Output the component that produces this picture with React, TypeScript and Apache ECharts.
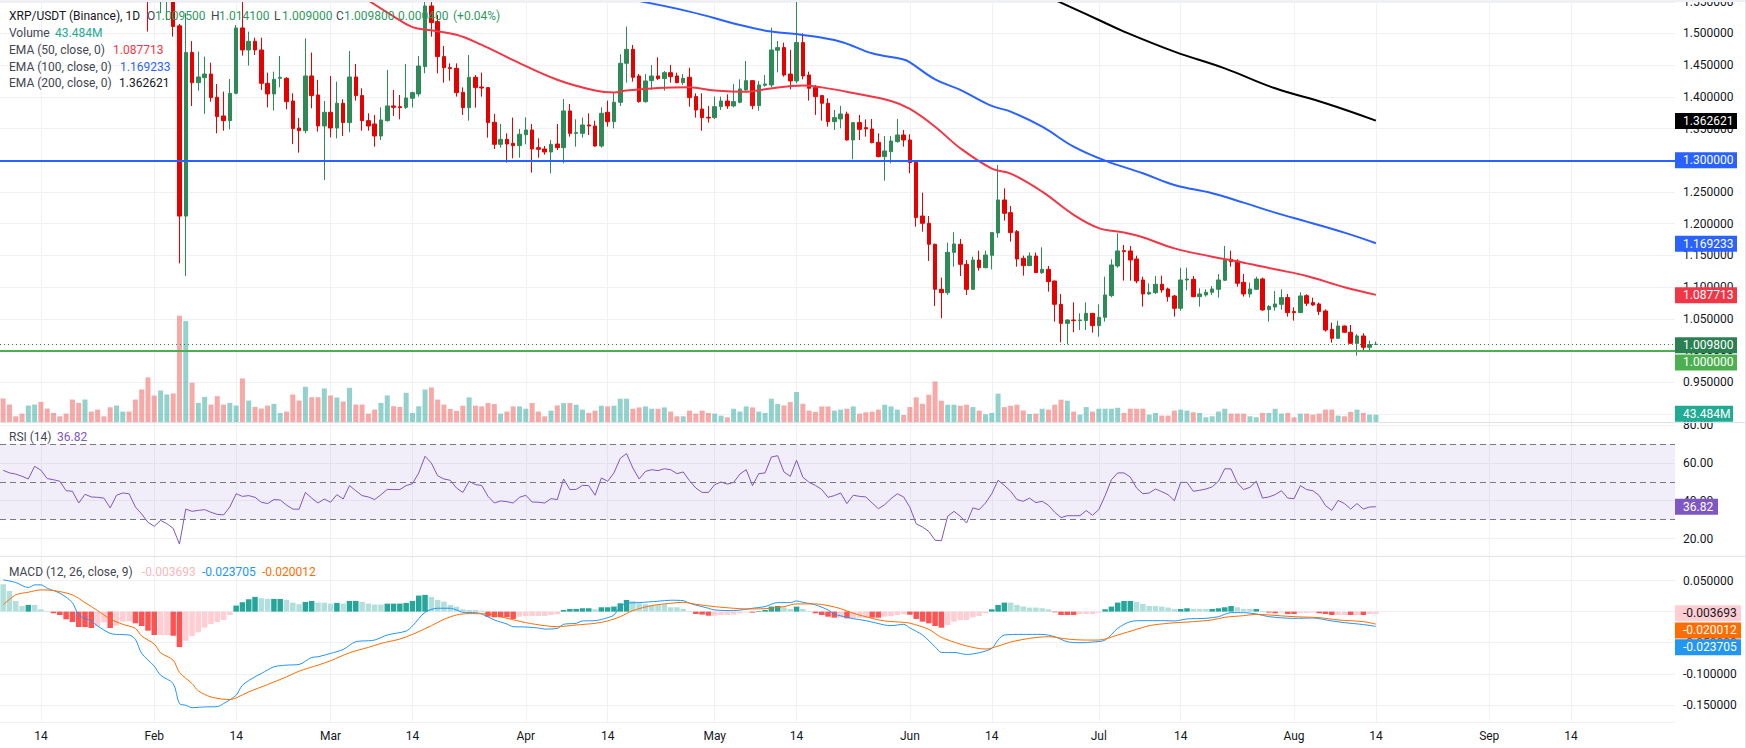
import React, { useEffect, useRef } from "react";
import * as echarts from "echarts";

// ---------- axis / categories ----------
const FIRST_DAY = [2023, 0, 8];
const CATEGORY_COUNT = 266;
const MONTH_NAMES = ["Jan", "Feb", "Mar", "Apr", "May", "Jun", "Jul", "Aug", "Sep", "Oct", "Nov", "Dec"];
const LABEL_DAYS = [1, 14];

// ---------- price candles (index 23 = Jan 31 onwards), rows [open, high, low, close] ----------
const CANDLE_START = 23;
const CANDLES: (number[] | null)[] = [
  [1.585, 1.6, 1.503, 1.565], null, [1.56, 1.6, 1.532, 1.58], [1.57, 1.61, 1.521, 1.59],
  [1.565, 1.575, 1.495, 1.511], [1.512, 1.515, 1.1375, 1.212], [1.212, 1.532, 1.1175, 1.47],
  [1.47, 1.488, 1.3856, 1.4224], [1.4224, 1.4714, 1.4098, 1.4314], [1.4303, 1.4635, 1.3733, 1.436],
  [1.436, 1.454, 1.3925, 1.3988], [1.3994, 1.4203, 1.3425, 1.3689], [1.3699, 1.4082, 1.3467, 1.3625],
  [1.3625, 1.4282, 1.3488, 1.4056], [1.4056, 1.5134, 1.404, 1.5087], [1.5087, 1.5502, 1.465, 1.474],
  [1.474, 1.5029, 1.4493, 1.4877], [1.4877, 1.4934, 1.4661, 1.474], [1.474, 1.4934, 1.4109, 1.4214],
  [1.4214, 1.4382, 1.3835, 1.4046], [1.4046, 1.4398, 1.3783, 1.4277], [1.4293, 1.4645, 1.4151, 1.4309],
  [1.4293, 1.431, 1.3804, 1.3925], [1.3935, 1.4056, 1.3254, 1.3499], [1.3509, 1.3667, 1.312, 1.3467],
  [1.3467, 1.4923, 1.3425, 1.433], [1.433, 1.4698, 1.382, 1.402], [1.403, 1.4267, 1.3452, 1.3541],
  [1.3541, 1.3935, 1.2689, 1.3757], [1.3757, 1.433, 1.3362, 1.3509], [1.3509, 1.424, 1.3346, 1.3899],
  [1.3899, 1.3962, 1.3383, 1.3594], [1.3594, 1.4724, 1.3441, 1.4314], [1.4314, 1.4519, 1.3941, 1.402],
  [1.402, 1.4135, 1.3467, 1.3625], [1.3625, 1.3741, 1.3467, 1.3541], [1.3573, 1.3715, 1.3215, 1.3383],
  [1.3383, 1.3835, 1.332, 1.3636], [1.3625, 1.4425, 1.361, 1.3857], [1.3857, 1.4109, 1.3699, 1.3835],
  [1.3846, 1.403, 1.3646, 1.383], [1.3835, 1.4519, 1.381, 1.3983], [1.3978, 1.4082, 1.3835, 1.4067],
  [1.4046, 1.4645, 1.4004, 1.4487], [1.4477, 1.5502, 1.4372, 1.5434], [1.5434, 1.5502, 1.495, 1.5171],
  [1.5187, 1.529, 1.4372, 1.4635], [1.4635, 1.4803, 1.4224, 1.4461], [1.4461, 1.4529, 1.4256, 1.4445],
  [1.445, 1.4529, 1.4004, 1.4067], [1.4072, 1.4151, 1.3715, 1.383], [1.383, 1.4661, 1.3625, 1.4309],
  [1.4309, 1.4345, 1.383, 1.4146], [1.4156, 1.4382, 1.4004, 1.414], [1.4146, 1.4151, 1.3357, 1.3594],
  [1.3599, 1.373, 1.3178, 1.3252], [1.3252, 1.3573, 1.3199, 1.333], [1.333, 1.3425, 1.2963, 1.3257],
  [1.3267, 1.3673, 1.3031, 1.3231], [1.3231, 1.3494, 1.3041, 1.341], [1.3404, 1.3678, 1.3252, 1.3478],
  [1.3478, 1.3573, 1.2805, 1.3178], [1.3199, 1.3346, 1.3041, 1.3173], [1.3178, 1.3225, 1.3089, 1.3131],
  [1.3131, 1.332, 1.2795, 1.3252], [1.3257, 1.3573, 1.3162, 1.3199], [1.3199, 1.3967, 1.2952, 1.3778],
  [1.3778, 1.3888, 1.3373, 1.3425], [1.3425, 1.3646, 1.3215, 1.3436], [1.3425, 1.3673, 1.3357, 1.3557],
  [1.3557, 1.3741, 1.3399, 1.3541], [1.3541, 1.3625, 1.3215, 1.3225], [1.3225, 1.3835, 1.3199, 1.3741],
  [1.3757, 1.3941, 1.353, 1.3609], [1.3609, 1.4056, 1.3504, 1.3915], [1.3915, 1.4672, 1.3857, 1.453],
  [1.453, 1.5108, 1.4224, 1.475], [1.475, 1.4819, 1.424, 1.4309], [1.433, 1.4361, 1.3909, 1.3925],
  [1.3925, 1.436, 1.3909, 1.4251], [1.4256, 1.4503, 1.4109, 1.433], [1.433, 1.4624, 1.4267, 1.4288],
  [1.4288, 1.4408, 1.4098, 1.4382], [1.4382, 1.4503, 1.4224, 1.4319], [1.433, 1.4382, 1.4214, 1.4224],
  [1.4224, 1.436, 1.4188, 1.4293], [1.4309, 1.446, 1.3846, 1.3988], [1.4004, 1.4056, 1.3673, 1.3793],
  [1.3809, 1.4056, 1.3467, 1.3673], [1.3678, 1.3857, 1.3594, 1.3667], [1.3673, 1.4004, 1.3652, 1.3846],
  [1.3846, 1.4004, 1.3793, 1.3935], [1.3935, 1.404, 1.381, 1.3857], [1.3857, 1.4203, 1.3835, 1.3925],
  [1.3915, 1.4277, 1.3899, 1.4125], [1.4109, 1.4566, 1.4098, 1.4256], [1.4256, 1.4265, 1.3804, 1.3862],
  [1.3862, 1.4251, 1.3783, 1.4188], [1.4183, 1.4345, 1.4161, 1.4203], [1.4188, 1.5092, 1.4151, 1.474],
  [1.4735, 1.4882, 1.4387, 1.4777], [1.4777, 1.4856, 1.4319, 1.4345], [1.436, 1.474, 1.4119, 1.4251],
  [1.4251, 1.5502, 1.4214, 1.4856], [1.4856, 1.5003, 1.4277, 1.433], [1.4345, 1.4398, 1.3941, 1.4135],
  [1.4146, 1.4188, 1.3715, 1.4004], [1.402, 1.403, 1.3625, 1.3899], [1.3899, 1.3978, 1.353, 1.3609],
  [1.3609, 1.3793, 1.3478, 1.3673], [1.3652, 1.3857, 1.3504, 1.373], [1.373, 1.3767, 1.331, 1.332],
  [1.332, 1.3594, 1.3015, 1.3594], [1.3594, 1.3715, 1.332, 1.3488], [1.3515, 1.3646, 1.3373, 1.3494],
  [1.3494, 1.3651, 1.3268, 1.3278], [1.3283, 1.3425, 1.3047, 1.3057], [1.3057, 1.3383, 1.2679, 1.3147],
  [1.3136, 1.3383, 1.2952, 1.3304], [1.3294, 1.3651, 1.3278, 1.3399], [1.3399, 1.3478, 1.3215, 1.332],
  [1.332, 1.341, 1.2795, 1.2963], [1.2968, 1.2985, 1.1953, 1.2096], [1.2121, 1.249, 1.1874, 1.2006],
  [1.2006, 1.2121, 1.1412, 1.1675], [1.1675, 1.1685, 1.0702, 1.0965], [1.0965, 1.1149, 1.0507, 1.0912],
  [1.0912, 1.1701, 1.0876, 1.1548], [1.1548, 1.1864, 1.1322, 1.168], [1.1675, 1.1759, 1.1175, 1.1359],
  [1.1359, 1.1427, 1.0876, 1.0965], [1.0965, 1.148, 1.0955, 1.1427], [1.1427, 1.1575, 1.1259, 1.1306],
  [1.1306, 1.1575, 1.1296, 1.1506], [1.1501, 1.1864, 1.128, 1.1859], [1.1854, 1.2926, 1.178, 1.2374],
  [1.2374, 1.2558, 1.2048, 1.2164], [1.2174, 1.2279, 1.1717, 1.1859], [1.1875, 1.19, 1.1322, 1.1443],
  [1.1454, 1.1496, 1.118, 1.1338], [1.1338, 1.1548, 1.1333, 1.149], [1.149, 1.1543, 1.1223, 1.1228],
  [1.1228, 1.1627, 1.1207, 1.128], [1.128, 1.1333, 1.0928, 1.1086], [1.1096, 1.1101, 1.0455, 1.0728],
  [1.0728, 1.0891, 1.0129, 1.0428], [1.0428, 1.0491, 1.0097, 1.0481], [1.0481, 1.076, 1.0287, 1.0471],
  [1.0471, 1.0586, 1.0323, 1.0481], [1.0471, 1.076, 1.0323, 1.0586], [1.0586, 1.0591, 1.0281, 1.0392],
  [1.0392, 1.0728, 1.0218, 1.0523], [1.0523, 1.1165, 1.0455, 1.0876], [1.0865, 1.1438, 1.0839, 1.1349],
  [1.1333, 1.1848, 1.1306, 1.157], [1.1575, 1.1664, 1.1102, 1.1559], [1.157, 1.1648, 1.1102, 1.1427],
  [1.1443, 1.1496, 1.106, 1.1096], [1.1112, 1.1165, 1.0692, 1.0891], [1.0891, 1.106, 1.0876, 1.0918],
  [1.0912, 1.1175, 1.0891, 1.1044], [1.1044, 1.118, 1.0912, 1.0954], [1.097, 1.0991, 1.077, 1.0849],
  [1.086, 1.0876, 1.0534, 1.0665], [1.0665, 1.1306, 1.0628, 1.1112], [1.1112, 1.1306, 1.095, 1.1128],
  [1.1123, 1.1175, 1.0839, 1.0849], [1.0849, 1.0981, 1.0692, 1.0891], [1.0876, 1.0965, 1.0849, 1.0918],
  [1.0918, 1.1017, 1.0876, 1.097], [1.0965, 1.1207, 1.0834, 1.1112], [1.1107, 1.1648, 1.1102, 1.1427],
  [1.1438, 1.1575, 1.1322, 1.1401], [1.141, 1.1438, 1.1007, 1.106], [1.1075, 1.1207, 1.0849, 1.0891],
  [1.0891, 1.107, 1.0834, 1.097], [1.0965, 1.1165, 1.0954, 1.1128], [1.1128, 1.1149, 1.0628, 1.0639],
  [1.0644, 1.0718, 1.0455, 1.0692], [1.0686, 1.0939, 1.0628, 1.0734], [1.0728, 1.0965, 1.0644, 1.0834],
  [1.0834, 1.0891, 1.0534, 1.0597], [1.0613, 1.0681, 1.0471, 1.0597], [1.0597, 1.0918, 1.0592, 1.086],
  [1.0865, 1.0886, 1.0702, 1.0744], [1.0755, 1.0834, 1.0702, 1.0718], [1.0734, 1.0755, 1.056, 1.0613],
  [1.0623, 1.0649, 1.0297, 1.0323], [1.0334, 1.0439, 1.0124, 1.0192], [1.0192, 1.0471, 1.0181, 1.0386],
  [1.0386, 1.0392, 1.0276, 1.0287], [1.0287, 1.0402, 1.0113, 1.0113], [1.0113, 1.026, 0.9919, 1.0229],
  [1.0229, 1.0271, 1.0008, 1.005], [1.005, 1.0155, 0.9997, 1.0094], [1.0095, 1.0141, 1.009, 1.0098],
];

// ---------- volume (millions), one per day from Jan 8 ----------
const VOLUME_M = [
  140, 104, 34, 50, 98, 104, 120, 80, 54, 34,
  50, 134, 114, 134, 62, 74, 34, 88, 98, 62,
  62, 134, 194, 266, 158, 188, 164, 170, 634, 602,
  234, 114, 150, 104, 154, 104, 114, 98, 260, 128,
  90, 80, 98, 108, 54, 62, 164, 128, 210, 148,
  148, 200, 158, 146, 122, 204, 104, 104, 50, 74,
  114, 158, 94, 90, 174, 54, 94, 194, 206, 134,
  104, 78, 66, 97, 147, 97, 93, 113, 107, 50,
  62, 93, 93, 79, 113, 62, 34, 68, 99, 113,
  113, 103, 74, 54, 68, 97, 93, 97, 139, 139,
  79, 87, 93, 79, 79, 87, 62, 34, 34, 68,
  50, 68, 54, 50, 38, 28, 79, 62, 93, 87,
  62, 54, 139, 107, 99, 119, 179, 109, 68, 60,
  93, 93, 68, 74, 79, 93, 50, 58, 62, 74,
  103, 93, 74, 42, 89, 147, 109, 163, 242, 127,
  103, 103, 97, 103, 89, 68, 46, 54, 169, 89,
  97, 103, 68, 48, 50, 79, 74, 103, 133, 127,
  62, 44, 89, 62, 79, 79, 79, 85, 54, 79,
  79, 79, 44, 54, 38, 38, 68, 74, 68, 58,
  54, 28, 34, 62, 79, 50, 50, 50, 34, 28,
  54, 54, 79, 50, 54, 28, 50, 50, 44, 50,
  74, 74, 38, 34, 60, 74, 54, 44, 43.484,
];
// up (1) / down (0) for days whose candle is off-screen (Jan 8 .. Feb 1)
const HIDDEN_VOLUME_UP = [0, 0, 0, 0, 1, 1, 0, 0, 0, 0, 0, 0, 0, 1, 0, 0, 0, 0, 1, 1, 0, 0, 0, 0, 0];

// ---------- EMAs, [day index, value] readings ----------
const EMA50: number[][] = [
  [58, 1.552], [62, 1.527], [65, 1.51], [68, 1.505], [72, 1.498], [76, 1.482], [81, 1.458],
  [88, 1.427], [94, 1.41], [97, 1.407], [99, 1.41], [104, 1.414], [109, 1.415], [113, 1.41],
  [118, 1.408], [121, 1.412], [127, 1.418], [130, 1.415], [135, 1.406], [141, 1.3935],
  [144, 1.381], [148, 1.353], [152, 1.319], [157, 1.287], [160, 1.279], [165, 1.2505],
  [170, 1.214], [174, 1.193], [178, 1.186], [181, 1.1785], [186, 1.161], [192, 1.148],
  [197, 1.1385], [202, 1.128], [207, 1.1175], [213, 1.0997], [218, 1.087713],
];
const EMA100: number[][] = [
  [100, 1.553], [109, 1.5345], [117, 1.5134], [122, 1.503], [127, 1.4977], [133, 1.487],
  [138, 1.4687], [143, 1.459], [144, 1.4545], [148, 1.4277], [152, 1.411], [157, 1.3857],
  [160, 1.3767], [165, 1.353], [170, 1.3215], [175, 1.2994], [181, 1.2795], [186, 1.261],
  [192, 1.248], [197, 1.2332], [202, 1.2174], [207, 1.2032], [213, 1.1859], [218, 1.169233],
];
const EMA200: number[][] = [
  [167, 1.553], [174, 1.5213], [178, 1.503], [186, 1.4714], [194, 1.445], [202, 1.4135],
  [210, 1.39], [218, 1.362621],
];

// ---------- horizontal levels ----------
const LEVEL_BLUE = 1.3;
const LEVEL_GREEN = 1.0;

// ---------- RSI(14), one per day ----------
const RSI = [
  56.1, 54.7, 54.1, 52.9, 51.5, 58.2, 56.1, 51.7, 51.1, 50.3,
  45.3, 45.0, 38.8, 43.4, 42.0, 41.8, 41.4, 36.2, 42.9, 44.1,
  43.7, 36.7, 33.0, 28.6, 26.5, 29.6, 27.9, 25.4, 17.1, 35.6,
  34.4, 34.9, 35.3, 33.9, 32.8, 32.5, 36.7, 43.7, 42.3, 42.7,
  41.8, 39.2, 38.5, 40.6, 40.4, 37.7, 35.6, 35.5, 44.4, 41.4,
  38.8, 40.9, 39.2, 43.2, 40.9, 48.0, 45.3, 42.7, 42.0, 40.6,
  43.2, 46.0, 45.9, 45.9, 48.0, 49.0, 54.7, 63.5, 59.9, 53.2,
  51.5, 50.8, 46.7, 44.4, 50.3, 48.5, 48.1, 42.3, 38.8, 39.9,
  39.5, 38.8, 41.8, 42.9, 39.3, 39.2, 38.8, 41.1, 40.6, 51.5,
  45.9, 46.0, 48.1, 48.0, 42.9, 52.0, 50.3, 54.7, 62.4, 64.9,
  57.3, 51.5, 55.5, 56.4, 55.9, 56.9, 56.4, 54.3, 55.2, 50.6,
  46.7, 44.4, 44.4, 48.5, 49.9, 48.8, 49.7, 54.1, 56.4, 48.0,
  54.3, 54.7, 63.1, 63.8, 55.2, 52.9, 61.4, 52.4, 49.7, 48.1,
  45.9, 41.8, 42.7, 44.1, 38.5, 42.9, 42.3, 42.0, 38.8, 35.8,
  37.9, 41.1, 43.7, 42.0, 36.5, 27.8, 26.1, 23.8, 19.1, 18.9,
  31.8, 34.4, 31.8, 28.2, 36.2, 35.3, 38.8, 43.7, 50.8, 48.1,
  45.0, 40.6, 39.7, 41.4, 39.0, 39.7, 37.6, 33.9, 31.1, 32.1,
  32.1, 32.1, 34.8, 32.3, 35.3, 42.7, 51.1, 54.7, 54.7, 52.5,
  46.7, 43.7, 44.1, 46.2, 44.8, 43.2, 40.0, 49.7, 49.7, 45.0,
  45.5, 46.2, 47.3, 50.3, 56.9, 56.8, 49.4, 45.9, 47.1, 50.3,
  41.4, 42.0, 43.2, 45.3, 41.4, 41.1, 48.0, 45.9, 45.3, 42.7,
  37.4, 34.9, 40.2, 38.5, 35.6, 38.5, 35.6, 36.7, 36.82,
];
const RSI_BANDS = [70, 50, 30];

// ---------- MACD (12, 26, 9) ----------
const MACD_HIST = [
  0.0441, 0.0333, 0.0172, 0.0091, 0.0108, 0.0108, 0.0038, 0.001, -0.0027, -0.0054,
  -0.0124, -0.0167, -0.0247, -0.0247, -0.0263, -0.0237, -0.0172, -0.0263, -0.0226, -0.0161,
  -0.0156, -0.0188, -0.0231, -0.0306, -0.0376, -0.0376, -0.0376, -0.0387, -0.057, -0.0468,
  -0.0392, -0.0333, -0.0258, -0.0199, -0.0167, -0.0134, -0.0054, 0.0097, 0.0151, 0.0199,
  0.0237, 0.0215, 0.0204, 0.0204, 0.0204, 0.0188, 0.0145, 0.0118, 0.0156, 0.0172,
  0.0145, 0.0145, 0.0129, 0.014, 0.0129, 0.0172, 0.0172, 0.0156, 0.0129, 0.0113,
  0.0113, 0.0129, 0.0129, 0.0129, 0.014, 0.0172, 0.0258, 0.0269, 0.0237, 0.0188,
  0.0161, 0.0108, 0.008, 0.0038, 0.0027, 0.0027, 0.0016, -0.0081, -0.0091, -0.0091,
  -0.0091, -0.0118, -0.0081, -0.007, -0.007, -0.007, -0.007, -0.0054, -0.0043, 0.0027,
  0.0043, 0.0043, 0.0054, 0.0054, 0.0038, 0.007, 0.007, 0.0081, 0.0134, 0.0188,
  0.0167, 0.0134, 0.0118, 0.0102, 0.0108, 0.0118, 0.007, 0.007, 0.0043, 0.001,
  -0.0038, -0.0048, -0.0065, -0.0065, -0.0054, -0.0054, -0.0048, -0.0027, -0.0011, -0.0016,
  0.001, 0.0027, 0.0081, 0.0091, 0.007, 0.0043, 0.0081, 0.0043, 0.001, -0.0027,
  -0.0054, -0.0081, -0.0097, -0.0097, -0.0108, -0.0108, -0.0097, -0.0097, -0.0097, -0.0097,
  -0.0081, -0.007, -0.0054, -0.0043, -0.005, -0.0118, -0.0161, -0.0188, -0.0231, -0.0258,
  -0.0215, -0.0161, -0.0134, -0.0134, -0.0091, -0.007, -0.0027, 0.0038, 0.0108, 0.0145,
  0.0145, 0.0108, 0.0081, 0.0065, 0.0065, 0.0054, 0.0038, -0.0011, -0.0054, -0.0054,
  -0.0054, -0.0038, -0.0038, -0.0038, -0.0016, 0.0038, 0.0081, 0.0145, 0.0172, 0.0172,
  0.0156, 0.0124, 0.0091, 0.0091, 0.0081, 0.0065, 0.0043, 0.0043, 0.0054, 0.0043,
  0.0043, 0.0043, 0.0043, 0.0054, 0.007, 0.0091, 0.007, 0.0043, 0.0043, 0.0043,
  0.001, -0.0016, -0.0027, -0.0016, -0.0038, -0.0038, -0.0022, -0.0022, -0.0016, -0.0027,
  -0.0038, -0.0054, -0.0054, -0.0054, -0.0054, -0.0054, -0.0054, -0.0038, -0.003693,
];
// D = growing above zero, L = falling above zero, P = rising below zero, R = falling below zero
const MACD_HIST_TONE =
  "LLLLDLLLRR" + "RRRRRPPRPP" + "PRRRRPPRRP" + "PPPPPPPDDD" + "DLLDDLLLDD" +
  "LLLDLDDLLL" + "LDDDDDDDLL" + "LLLLLLLRRR" + "RRPPPPPPPD" + "DDDDLDDDDD" +
  "LLLLLLLLLL" + "RRRPPPPPPR" + "DDDDLLDLLR" + "RRRPRPPPRR" + "PPPPRRRRRR" +
  "PPPPPPPDDD" + "LLLLLLLRRR" + "RPPPPDDDDD" + "LLLLLLLDDL" + "LLDDDDLLLD" +
  "LRRPRRPPPR" + "RRPPRPRPP";
const MACD_LINE: number[][] = [
  [0, 0.0511], [2, 0.0468], [4, 0.0387], [5, 0.043], [6, 0.043], [7, 0.0376], [9, 0.0296],
  [11, 0.0145], [12, -0.0054], [14, -0.015], [15, -0.0231], [17, -0.035], [18, -0.0366],
  [20, -0.0376], [21, -0.0446], [22, -0.0672], [24, -0.0876], [25, -0.1022], [27, -0.1156],
  [28, -0.1478], [29, -0.1505], [30, -0.1543], [32, -0.1532], [34, -0.1527], [35, -0.1478],
  [37, -0.1344], [38, -0.1183], [40, -0.1048], [41, -0.0995], [43, -0.0887], [45, -0.086],
  [47, -0.0849], [49, -0.0737], [50, -0.0726], [52, -0.0672], [54, -0.0608], [56, -0.0484],
  [58, -0.0468], [59, -0.0457], [61, -0.0376], [64, -0.0312], [65, -0.0231], [67, -0.0011],
  [69, 0.0054], [71, 0.0054], [72, 0.0027], [73, -0.0011], [75, -0.0016], [76, -0.0038],
  [78, -0.0134], [80, -0.0199], [81, -0.0242], [83, -0.0247], [85, -0.0263], [86, -0.028],
  [88, -0.0269], [89, -0.0204], [91, -0.0188], [92, -0.015], [94, -0.0145], [96, -0.0097],
  [97, -0.0054], [98, 0.0081], [99, 0.0134], [101, 0.0145], [104, 0.0167], [106, 0.0183],
  [108, 0.0177], [109, 0.0134], [112, 0.0054], [113, 0.0027], [116, 0.0016], [118, 0.0038],
  [119, 0.0054], [121, 0.0081], [123, 0.0145], [125, 0.0145], [126, 0.0172], [127, 0.015],
  [129, 0.0108], [131, 0.0027], [132, -0.0038], [134, -0.0091], [135, -0.0113], [137, -0.0145],
  [140, -0.0215], [141, -0.0226], [143, -0.0204], [144, -0.0262], [146, -0.0376], [148, -0.0565],
  [149, -0.0656], [151, -0.0656], [153, -0.0688], [155, -0.0661], [157, -0.0591], [158, -0.0457],
  [159, -0.0376], [162, -0.0366], [165, -0.0366], [167, -0.0403], [169, -0.0484], [171, -0.05],
  [173, -0.0489], [175, -0.0457], [177, -0.0269], [179, -0.0161], [181, -0.0145], [184, -0.0145],
  [186, -0.015], [188, -0.0118], [191, -0.0108], [193, -0.0081], [195, -0.0016], [197, -0.0016],
  [199, -0.0038], [201, -0.0081], [205, -0.0108], [208, -0.0102], [211, -0.015], [213, -0.0177],
  [216, -0.0208], [218, -0.023705],
];
const MACD_SIGNAL: number[][] = [
  [0, 0.0108], [2, 0.0269], [4, 0.0312], [6, 0.0349], [8, 0.0339], [11, 0.0269], [13, 0.0145],
  [15, 0.0016], [17, -0.0118], [19, -0.0204], [21, -0.0269], [22, -0.0392], [24, -0.0522],
  [25, -0.0661], [27, -0.078], [28, -0.0978], [30, -0.1156], [31, -0.1274], [33, -0.1371],
  [36, -0.1414], [37, -0.1387], [39, -0.129], [42, -0.1172], [45, -0.1048], [47, -0.0957],
  [50, -0.086], [52, -0.079], [55, -0.0661], [58, -0.0575], [60, -0.0511], [63, -0.0441],
  [65, -0.0366], [68, -0.0226], [70, -0.0124], [72, -0.0054], [74, -0.0032], [77, -0.0038],
  [80, -0.0108], [83, -0.0177], [86, -0.0226], [88, -0.0242], [91, -0.0215], [94, -0.0188],
  [96, -0.015], [98, -0.0081], [100, 0.0016], [103, 0.0097], [106, 0.0134], [108, 0.015],
  [110, 0.0118], [113, 0.0081], [116, 0.0054], [118, 0.0043], [121, 0.0048], [124, 0.0081],
  [126, 0.0124], [129, 0.0124], [131, 0.0097], [133, 0.0048], [135, -0.0027], [138, -0.0108],
  [140, -0.015], [143, -0.0172], [144, -0.0185], [147, -0.0285], [149, -0.0414], [152, -0.0522],
  [154, -0.0575], [156, -0.0602], [158, -0.0554], [160, -0.0489], [163, -0.043], [166, -0.0403],
  [169, -0.0441], [172, -0.0457], [174, -0.0457], [177, -0.0376], [180, -0.0285], [182, -0.0226],
  [185, -0.0188], [189, -0.0161], [192, -0.0134], [194, -0.0091], [197, -0.0065], [199, -0.0043],
  [201, -0.0054], [205, -0.0081], [209, -0.0097], [212, -0.0134], [216, -0.0161], [218, -0.020012],
];

// ---------- styling ----------
const FONT = "Roboto, 'Noto Sans', sans-serif";
const UP = "#2e8b57";
const DOWN = "#e60000";
const VOL_UP = "rgba(38,166,154,0.5)";
const VOL_DOWN = "rgba(239,83,80,0.5)";
const GRID_LINE = "#eff1f5";
const HIST_COLORS: Record<string, string> = { D: "#26a69a", L: "#b2dfdb", P: "#ffcdd2", R: "#ff5252" };
const PLOT_RIGHT = 1675;

const dateOf = (i: number) => new Date(FIRST_DAY[0], FIRST_DAY[1], FIRST_DAY[2] + i);
const pad2 = (n: number) => String(n).padStart(2, "0");
const CATEGORIES = Array.from({ length: CATEGORY_COUNT }, (_, i) => {
  const d = dateOf(i);
  return `${d.getFullYear()}-${pad2(d.getMonth() + 1)}-${pad2(d.getDate())}`;
});
const isLabelDay = (i: number) => LABEL_DAYS.includes(dateOf(i).getDate());

function candleAt(i: number): number[] | null {
  const k = i - CANDLE_START;
  if (k < 0 || k >= CANDLES.length) return null;
  return CANDLES[k];
}

function buildOption() {
  const candleData = VOLUME_M.map((_, i) => {
    const c = candleAt(i);
    return c ? [c[0], c[3], c[2], c[1]] : ["-", "-", "-", "-"];
  });
  const volumeData = VOLUME_M.map((v, i) => {
    const c = candleAt(i);
    const up = c ? c[3] >= c[0] : HIDDEN_VOLUME_UP[i] === 1;
    return { value: v, itemStyle: { color: up ? VOL_UP : VOL_DOWN } };
  });
  const histData = MACD_HIST.map((v, i) => ({
    value: v,
    itemStyle: { color: HIST_COLORS[MACD_HIST_TONE[i]] || (v >= 0 ? HIST_COLORS.L : HIST_COLORS.P) },
  }));
  const lastCandle = CANDLES[CANDLES.length - 1] as number[];

  const xAxisBase = (gridIndex: number, showLabels: boolean) => ({
    type: "category",
    gridIndex,
    data: CATEGORIES,
    boundaryGap: true,
    axisLine: { show: false },
    axisTick: { show: false },
    splitLine: {
      show: true,
      interval: (idx: number) => isLabelDay(idx),
      alignWithLabel: true,
      lineStyle: { color: GRID_LINE, width: 1 },
    },
    axisLabel: showLabels
      ? {
          show: true,
          interval: (idx: number) => isLabelDay(idx),
          formatter: (v: string) => {
            const parts = v.split("-");
            return parts[2] === "01" ? MONTH_NAMES[Number(parts[1]) - 1] : String(Number(parts[2]));
          },
          color: "#131722",
          fontSize: 12,
          fontFamily: FONT,
          margin: 8,
        }
      : { show: false },
  });

  const yLabel = (digits: number) => ({
    show: true,
    color: "#131722",
    fontSize: 12,
    fontFamily: FONT,
    margin: 8,
    showMinLabel: false,
    showMaxLabel: false,
    formatter: (v: number) => v.toFixed(digits),
  });

  const lineSeries = (data: number[][], color: string, xi: number, yi: number, width: number, smooth: number) => ({
    type: "line",
    xAxisIndex: xi,
    yAxisIndex: yi,
    data,
    symbol: "none",
    smooth,
    silent: true,
    lineStyle: { color, width },
    itemStyle: { color },
    z: 4,
  });

  return {
    animation: false,
    backgroundColor: "#ffffff",
    grid: [
      { left: 0, right: 1746 - PLOT_RIGHT, top: 0, height: 422, outerBoundsMode: "none", containLabel: false },
      { left: 0, right: 1746 - PLOT_RIGHT, top: 422, height: 134, outerBoundsMode: "none", containLabel: false },
      { left: 0, right: 1746 - PLOT_RIGHT, top: 556, height: 166, outerBoundsMode: "none", containLabel: false },
    ],
    xAxis: [xAxisBase(0, false), xAxisBase(1, false), xAxisBase(2, true)],
    yAxis: [
      {
        type: "value", gridIndex: 0, position: "right", min: 0.8872, max: 1.5528, scale: true,
        splitNumber: 13, minInterval: 0.05, maxInterval: 0.05,
        axisLine: { show: false }, axisTick: { show: false },
        splitLine: { show: true, lineStyle: { color: GRID_LINE } },
        axisLabel: yLabel(6),
      },
      {
        type: "value", gridIndex: 0, position: "right", min: 0, max: 2517, show: false,
        splitLine: { show: false },
      },
      {
        type: "value", gridIndex: 1, position: "right", min: 10.8, max: 81.6,
        splitNumber: 4, minInterval: 20, maxInterval: 20,
        axisLine: { show: false }, axisTick: { show: false },
        splitLine: { show: true, lineStyle: { color: GRID_LINE } },
        axisLabel: yLabel(2),
      },
      {
        type: "value", gridIndex: 2, position: "right", min: -0.1774, max: 0.0894,
        splitNumber: 5, minInterval: 0.05, maxInterval: 0.05,
        axisLine: { show: false }, axisTick: { show: false },
        splitLine: { show: true, lineStyle: { color: GRID_LINE } },
        axisLabel: yLabel(6),
      },
    ],
    series: [
      {
        type: "bar", name: "Volume", xAxisIndex: 0, yAxisIndex: 1, data: volumeData,
        barWidth: 5, silent: true, z: 1,
      },
      {
        type: "candlestick", name: "XRP/USDT", xAxisIndex: 0, yAxisIndex: 0, data: candleData,
        barWidth: 4, silent: true, z: 3,
        itemStyle: { color: UP, color0: DOWN, borderColor: UP, borderColor0: DOWN, borderWidth: 1 },
        markLine: {
          silent: true,
          symbol: ["none", "none"],
          label: { show: false },
          data: [
            { yAxis: LEVEL_BLUE, lineStyle: { color: "#2962ff", width: 2, type: "solid" } },
            { yAxis: LEVEL_GREEN, lineStyle: { color: "#4caf50", width: 2, type: "solid" } },
            { yAxis: lastCandle[3], lineStyle: { color: "#2b8052", width: 1, type: [1, 3] } },
          ],
        },
      },
      lineSeries(EMA50, "#f23645", 0, 0, 2, 0.4),
      lineSeries(EMA100, "#2962ff", 0, 0, 2, 0.4),
      lineSeries(EMA200, "#000000", 0, 0, 2, 0.4),
      {
        type: "line", name: "RSI", xAxisIndex: 1, yAxisIndex: 2, data: RSI,
        symbol: "none", silent: true, z: 4,
        lineStyle: { color: "#7e57c2", width: 1 }, itemStyle: { color: "#7e57c2" },
        markArea: {
          silent: true,
          itemStyle: { color: "rgba(126,87,194,0.1)" },
          data: [[{ yAxis: RSI_BANDS[0] }, { yAxis: RSI_BANDS[2] }]],
        },
        markLine: {
          silent: true,
          symbol: ["none", "none"],
          label: { show: false },
          lineStyle: { color: "#787b86", width: 1, type: [6, 4] },
          data: RSI_BANDS.map((b) => ({ yAxis: b })),
        },
      },
      {
        type: "bar", name: "Histogram", xAxisIndex: 2, yAxisIndex: 3, data: histData,
        barWidth: 5.5, silent: true, z: 2,
      },
      lineSeries(MACD_LINE, "#2196f3", 2, 3, 1, 0.3),
      lineSeries(MACD_SIGNAL, "#ff6d00", 2, 3, 1, 0.3),
    ],
  };
}

function buildGraphics(chart: any) {
  const last = (arr: number[][]) => arr[arr.length - 1][1];
  const lastCandle = CANDLES[CANDLES.length - 1] as number[];
  const prevCandle = CANDLES[CANDLES.length - 2] as number[];
  const change = lastCandle[3] - prevCandle[3];
  const changePct = (change / prevCandle[3]) * 100;
  const volLast = VOLUME_M[VOLUME_M.length - 1];
  const rsiLast = RSI[RSI.length - 1];
  const histLast = MACD_HIST[MACD_HIST.length - 1];
  const macdLast = last(MACD_LINE);
  const sigLast = last(MACD_SIGNAL);

  const g: any[] = [];
  const txt = (x: number, y: number, text: string, fill: string) =>
    g.push({
      type: "text", x, y, z: 50, silent: true,
      style: { text, fill, fontSize: 12, fontFamily: FONT, align: "left", verticalAlign: "middle" },
    });

  const label = "#434651";
  const green = "#2e9960";
  // price legend
  txt(9, 16, "XRP/USDT (Binance), 1D", "#131722");
  const ohlc = [["O", lastCandle[0], 147], ["H", lastCandle[1], 211], ["L", lastCandle[2], 274], ["C", lastCandle[3], 336]];
  ohlc.forEach(([k, v, x]) => {
    txt(x as number, 16, k as string, label);
    txt((x as number) + 8, 16, (v as number).toFixed(6), green);
  });
  txt(398, 16, change.toFixed(6), green);
  txt(453, 16, `(${changePct >= 0 ? "+" : ""}${changePct.toFixed(2)}%)`, green);
  txt(9, 33, "Volume", label);
  txt(55, 33, `${volLast.toFixed(3)}M`, "#22ab94");
  txt(9, 50, "EMA (50, close, 0)", label);
  txt(113, 50, last(EMA50).toFixed(6), "#f23645");
  txt(9, 67, "EMA (100, close, 0)", label);
  txt(120, 67, last(EMA100).toFixed(6), "#2962ff");
  txt(9, 83, "EMA (200, close, 0)", label);
  txt(119, 83, last(EMA200).toFixed(6), "#131722");
  // RSI legend
  txt(9, 437, "RSI (14)", label);
  txt(57, 437, rsiLast.toFixed(2), "#7e57c2");
  // MACD legend
  txt(9, 572, "MACD (12, 26, close, 9)", label);
  txt(142, 572, histLast.toFixed(6), "#f8b7be");
  txt(202, 572, macdLast.toFixed(6), "#2196f3");
  txt(262, 572, sigLast.toFixed(6), "#ff6d00");

  // pane separators & frame
  g.push({ type: "rect", z: 40, silent: true, shape: { x: 0, y: 0, width: 1746, height: 2 }, style: { fill: "#eef0f4" } });
  [422.5, 556.5].forEach((y) =>
    g.push({ type: "line", z: 40, silent: true, shape: { x1: 0, y1: y, x2: 1746, y2: y }, style: { stroke: "#e0e3eb", lineWidth: 1 } })
  );
  g.push({ type: "line", z: 40, silent: true, shape: { x1: 1745.5, y1: 0, x2: 1745.5, y2: 748 }, style: { stroke: "#e0e3eb", lineWidth: 1 } });

  // value boxes on the right scale
  const boxes = [
    { axis: 0, value: last(EMA200), text: last(EMA200).toFixed(6), bg: "#000000", fg: "#ffffff", w: 62, shift: 0.5 },
    { axis: 0, value: LEVEL_BLUE, text: LEVEL_BLUE.toFixed(6), bg: "#2962ff", fg: "#ffffff", w: 62, shift: 0 },
    { axis: 0, value: last(EMA100), text: last(EMA100).toFixed(6), bg: "#2962ff", fg: "#ffffff", w: 62, shift: 0.5 },
    { axis: 0, value: last(EMA50), text: last(EMA50).toFixed(6), bg: "#f23645", fg: "#ffffff", w: 62, shift: 0.5 },
    { axis: 0, value: lastCandle[3], text: lastCandle[3].toFixed(6), bg: "#2b8052", fg: "#ffffff", w: 62, shift: 1 },
    { axis: 0, value: LEVEL_GREEN, text: LEVEL_GREEN.toFixed(6), bg: "#4caf50", fg: "#ffffff", w: 62, shift: 12 },
    { axis: 1, value: volLast, text: `${volLast.toFixed(3)}M`, bg: "#22ab94", fg: "#ffffff", w: 58, shift: -1 },
    { axis: 2, value: rsiLast, text: rsiLast.toFixed(2), bg: "#7e57c2", fg: "#ffffff", w: 43, shift: 0 },
    { axis: 3, value: histLast, text: histLast.toFixed(6), bg: "#ffcdd2", fg: "#131722", w: 66, shift: -0.7 },
    { axis: 3, value: sigLast, text: sigLast.toFixed(6), bg: "#ff6d00", fg: "#ffffff", w: 66, shift: 6.4 },
    { axis: 3, value: macdLast, text: macdLast.toFixed(6), bg: "#2196f3", fg: "#ffffff", w: 66, shift: 21 },
  ];
  boxes.forEach((b) => {
    const y = (chart.convertToPixel({ yAxisIndex: b.axis }, b.value) as number) + b.shift;
    g.push({
      type: "group", z: 60, silent: true,
      children: [
        { type: "rect", z: 60, shape: { x: PLOT_RIGHT, y: y - 8, width: b.w, height: 16 }, style: { fill: b.bg } },
        {
          type: "text", z: 61, x: PLOT_RIGHT + 8, y,
          style: { text: b.text, fill: b.fg, fontSize: 12, fontFamily: FONT, align: "left", verticalAlign: "middle" },
        },
      ],
    });
  });
  return g;
}

export default function App() {
  const ref = useRef<HTMLDivElement>(null);
  useEffect(() => {
    const el = ref.current;
    if (!el) return;
    const chart = echarts.init(el, null, { renderer: "svg" });
    chart.setOption(buildOption() as any);
    chart.setOption({ graphic: buildGraphics(chart) } as any);
    return () => chart.dispose();
  }, []);
  return (
    <div
      ref={ref}
      style={{ position: "fixed", left: 0, top: 0, width: 1746, height: 748, background: "#ffffff" }}
    />
  );
}
